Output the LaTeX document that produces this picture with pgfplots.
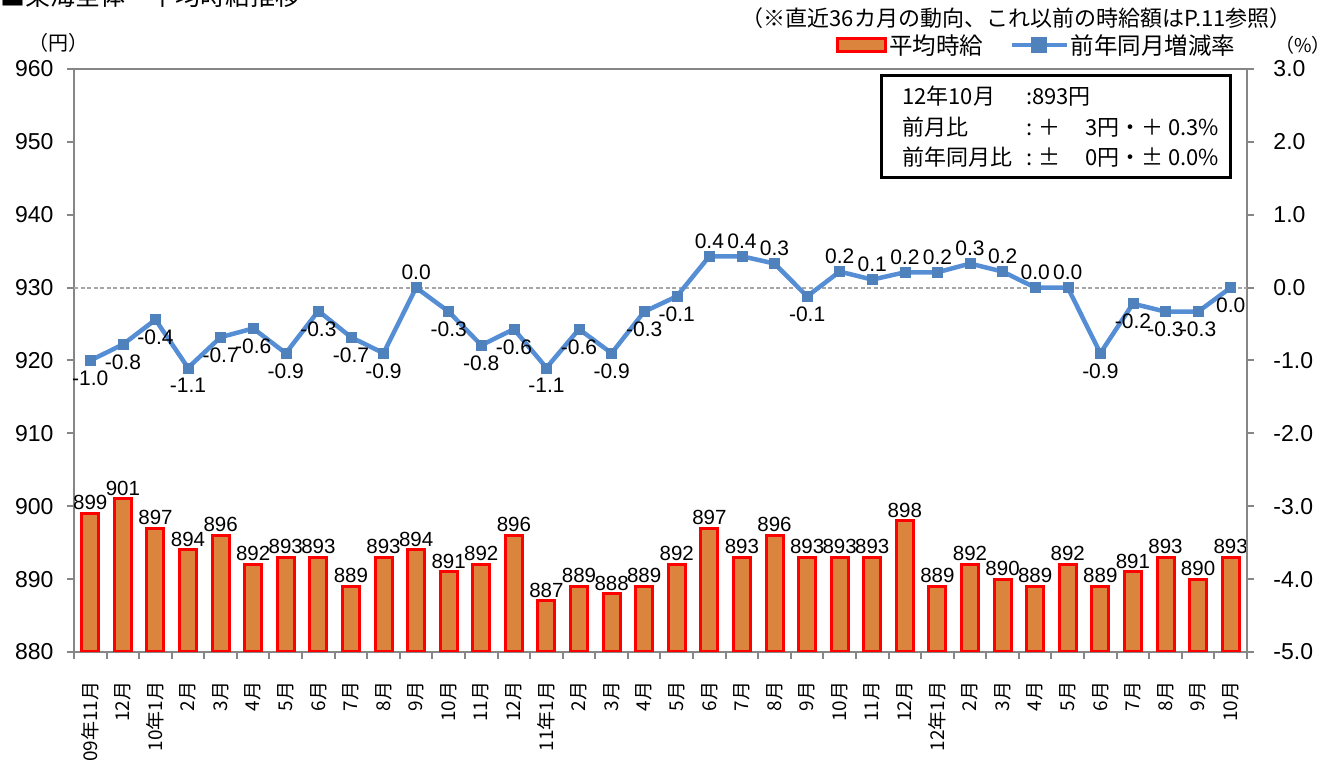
\documentclass[border=0pt]{standalone}
\usepackage{fontspec}
\setmainfont{Liberation Sans}
\newfontfamily\jp{Noto Sans CJK JP}
\usepackage{pgfplots}
\pgfplotsset{compat=1.18}
\definecolor{barfill}{RGB}{218,132,61}
\definecolor{linec}{RGB}{85,142,213}
\definecolor{markc}{RGB}{79,129,189}
\definecolor{axc}{RGB}{134,134,134}
\definecolor{refc}{RGB}{166,166,166}
\newcommand\fs[1]{\fontsize{#1bp}{#1bp}\selectfont}
\pgfplotsset{
  base/.style={
    at={(74bp,108bp)}, anchor=south west, scale only axis,
    width=1173bp, height=583bp,
    xmin=0.5, xmax=36.5,
    axis line style={axc, line width=2bp},
    tick style={axc, line width=2bp},
    tick align=outside,
    major tick length=7bp,
    minor tick length=7bp,
    /pgf/number format/assume math mode=true,
  }
}
\begin{document}
\begin{tikzpicture}
\path[use as bounding box] (0,0) rectangle (1330bp,760bp);
% left axis: bars
\begin{axis}[base,
  ymin=880, ymax=960, ytick={880,890,...,960},
  tick pos=left,
  xtick={1,...,36},
  xticklabels={09年11月,12月,10年1月,2月,3月,4月,5月,6月,7月,8月,9月,10月,11月,12月,11年1月,2月,3月,4月,5月,6月,7月,8月,9月,10月,11月,12月,12年1月,2月,3月,4月,5月,6月,7月,8月,9月,10月},
  minor xtick={0.5,1.5,...,36.5},
  major x tick style={draw=none},
  yticklabel style={font=\fs{23}, xshift=-10bp},
  xticklabel style={font=\jp\fs{19}, yshift=-19bp, rotate=90, anchor=east},
  ybar, bar width=17bp,
  nodes near coords,
  nodes near coords style={font=\fs{20.5}, black, inner sep=2bp},
]
\addplot[fill=barfill, draw=red, line width=3bp] coordinates {
(1,899) (2,901) (3,897) (4,894) (5,896) (6,892) (7,893) (8,893) (9,889) (10,893)
(11,894) (12,891) (13,892) (14,896) (15,887) (16,889) (17,888) (18,889) (19,892) (20,897)
(21,893) (22,896) (23,893) (24,893) (25,893) (26,898) (27,889) (28,892) (29,890) (30,889)
(31,892) (32,889) (33,891) (34,893) (35,890) (36,893)};
\end{axis}
% right axis: line
\begin{axis}[base,
  ymin=-5, ymax=3, ytick={-5,-4,...,3},
  hide x axis, axis y line*=right,
  yticklabel style={font=\fs{23}, xshift=16bp, /pgf/number format/.cd, fixed, fixed zerofill, precision=1},
  legend style={at={(0.992,1.041)}, anchor=east, draw=none, fill=none,
    font=\jp\fs{23.5}, legend columns=2, inner sep=0pt,
    /tikz/every even column/.append style={column sep=24bp}},
  legend cell align=left,
]
\addplot[refc, line width=2bp, dash pattern=on 4bp off 2.5bp, forget plot] coordinates {(0.5,0) (36.5,0)};
\addlegendimage{legend image code/.code={\draw[fill=barfill, draw=red, line width=3bp] (0bp,-6bp) rectangle (48bp,7bp);}}
\addlegendentry{平均時給}
\addplot[linec, line width=4.5bp, mark=square*, mark size=5bp,
  mark options={fill=markc, draw=markc, line width=0.5bp},
  legend image code/.code={\draw[linec, line width=4.5bp] (0bp,0bp) -- (55bp,0bp); \fill[markc] (22bp,-5.5bp) rectangle (33bp,5.5bp);}]
coordinates {
(1,-1.0) (2,-0.78) (3,-0.44) (4,-1.1) (5,-0.68) (6,-0.56) (7,-0.9) (8,-0.32) (9,-0.68) (10,-0.9)
(11,0.0) (12,-0.33) (13,-0.79) (14,-0.57) (15,-1.1) (16,-0.57) (17,-0.9) (18,-0.33) (19,-0.12) (20,0.43)
(21,0.43) (22,0.33) (23,-0.12) (24,0.22) (25,0.11) (26,0.21) (27,0.21) (28,0.33) (29,0.22) (30,0.0)
(31,0.0) (32,-0.9) (33,-0.22) (34,-0.33) (35,-0.33) (36,0.0)};
\addlegendentry{前年同月増減率}
% labels above
\addplot[draw=none, mark=none, forget plot, point meta=explicit symbolic, nodes near coords,
  nodes near coords style={font=\fs{21}, black, anchor=south, yshift=4bp}]
coordinates {(11,0.0)[0.0] (20,0.43)[0.4] (21,0.43)[0.4] (22,0.33)[0.3] (24,0.22)[0.2] (25,0.11)[0.1] (26,0.21)[0.2] (27,0.21)[0.2] (28,0.33)[0.3] (29,0.22)[0.2] (30,0.0)[0.0] (31,0.0)[0.0]};
% labels below
\addplot[draw=none, mark=none, forget plot, point meta=explicit symbolic, nodes near coords,
  nodes near coords style={font=\fs{21}, black, anchor=north, yshift=-7bp}]
coordinates {(1,-1.0)[-1.0] (2,-0.78)[-0.8] (3,-0.44)[-0.4] (4,-1.1)[-1.1] (5,-0.68)[-0.7] (6,-0.56)[-0.6] (7,-0.9)[-0.9] (8,-0.32)[-0.3] (9,-0.68)[-0.7] (10,-0.9)[-0.9]
(12,-0.33)[-0.3] (13,-0.79)[-0.8] (14,-0.57)[-0.6] (15,-1.1)[-1.1] (16,-0.57)[-0.6] (17,-0.9)[-0.9] (18,-0.33)[-0.3] (19,-0.12)[-0.1] (23,-0.12)[-0.1]
(32,-0.9)[-0.9] (33,-0.22)[-0.2] (34,-0.33)[-0.3] (35,-0.33)[-0.3] (36,0.0)[0.0]};
\end{axis}
% texts
\node[anchor=base west, font=\jp\fs{25}, inner sep=0pt] at (0bp,754bp) {■東海全体　平均時給推移};
\node[font=\jp\fs{20}, inner sep=0pt] at (58bp,717bp) {（円）};
\node[font=\jp\fs{19}, inner sep=0pt] at (1303bp,715bp) {（\%）};
\node[anchor=east, font=\jp\fs{22}, inner sep=0pt] at (1292bp,742bp) {（※直近36カ月の動向、これ以前の時給額はP.11参照）};
% info box
\draw[black, line width=3bp] (881bp,582bp) rectangle (1230bp,684bp);
\begin{scope}[every node/.style={font=\jp\fs{22}, inner sep=0pt, anchor=base west}]
\node at (902bp,655bp) {12年10月};
\node at (1026bp,655bp) {:893円};
\node at (902bp,624bp) {前月比};
\node at (1026bp,624bp) {:};
\node at (1038bp,624bp) {＋};
\node at (1085bp,624bp) {3円・＋ 0.3\%};
\node at (902bp,594bp) {前年同月比};
\node at (1026bp,594bp) {:};
\node at (1038bp,594bp) {±};
\node at (1085bp,594bp) {0円・± 0.0\%};
\end{scope}
\end{tikzpicture}
\end{document}
